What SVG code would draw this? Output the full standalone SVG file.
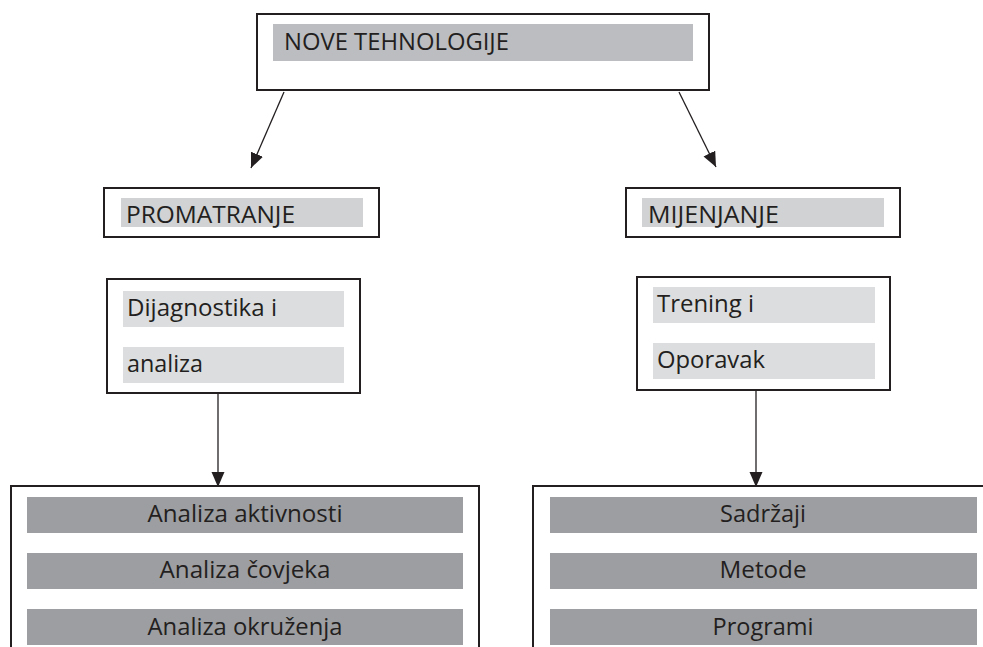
<svg xmlns="http://www.w3.org/2000/svg" width="983" height="647" viewBox="0 0 983 647">
<defs>
<style>
.box{fill:#fff;stroke:#231f20;stroke-width:2}
.b1{fill:#bcbdc0}
.b2{fill:#d1d2d4}
.b3{fill:#dcdddf}
.b4{fill:#9d9ea1}
.t{font-family:"Open Sans","Liberation Sans",sans-serif;font-size:24px;fill:#231f20}
.c{text-anchor:middle}
.conn{stroke:#231f20;stroke-width:1.3;fill:none;marker-end:url(#ah)}
</style>
<marker id="ah" markerUnits="userSpaceOnUse" markerWidth="16" markerHeight="14" refX="15" refY="6.5" orient="auto">
<path d="M0,0 L15,6.5 L0,13 z" fill="#231f20"/>
</marker>
</defs>
<rect width="983" height="647" fill="#fff"/>
<g id="connectors">
<line class="conn" x1="284" y1="92" x2="251" y2="168"/>
<line class="conn" x1="679" y1="92" x2="716" y2="167"/>
<line class="conn" x1="218" y1="394" x2="218" y2="487"/>
<line class="conn" x1="756" y1="391" x2="756" y2="487"/>
</g>
<g id="nove-tehnologije">
<rect class="box" x="257" y="14" width="452" height="76"/>
<rect class="b1" x="273" y="24" width="420" height="37"/>
<text class="t" x="284" y="50" textLength="225" lengthAdjust="spacingAndGlyphs">NOVE TEHNOLOGIJE</text>
</g>
<g id="promatranje">
<rect class="box" x="104" y="188" width="275" height="49"/>
<rect class="b2" x="121" y="198" width="242" height="29"/>
<text class="t" x="126" y="223" textLength="169" lengthAdjust="spacingAndGlyphs">PROMATRANJE</text>
</g>
<g id="mijenjanje">
<rect class="box" x="626" y="188" width="274" height="49"/>
<rect class="b2" x="642" y="198" width="242" height="29"/>
<text class="t" x="648" y="223" textLength="131" lengthAdjust="spacingAndGlyphs">MIJENJANJE</text>
</g>
<g id="dijagnostika">
<rect class="box" x="107" y="279" width="253" height="114"/>
<rect class="b3" x="123" y="291" width="221" height="36"/>
<rect class="b3" x="123" y="347" width="221" height="36"/>
<text class="t" x="127" y="316" textLength="150" lengthAdjust="spacingAndGlyphs">Dijagnostika i</text>
<text class="t" x="127" y="372" textLength="76" lengthAdjust="spacingAndGlyphs">analiza</text>
</g>
<g id="trening">
<rect class="box" x="637" y="277" width="253" height="113"/>
<rect class="b3" x="653" y="287" width="222" height="36"/>
<rect class="b3" x="653" y="343" width="222" height="36"/>
<text class="t" x="657" y="312" textLength="97" lengthAdjust="spacingAndGlyphs">Trening i</text>
<text class="t" x="657" y="368" textLength="108" lengthAdjust="spacingAndGlyphs">Oporavak</text>
</g>
<g id="analize">
<rect class="box" x="11" y="486" width="468" height="180"/>
<rect class="b4" x="27" y="497" width="436" height="36"/>
<rect class="b4" x="27" y="553" width="436" height="36"/>
<rect class="b4" x="27" y="609" width="436" height="36"/>
<text class="t c" x="245" y="522" textLength="195" lengthAdjust="spacingAndGlyphs">Analiza aktivnosti</text>
<text class="t c" x="245" y="578" textLength="171" lengthAdjust="spacingAndGlyphs">Analiza čovjeka</text>
<text class="t c" x="245" y="635" textLength="195" lengthAdjust="spacingAndGlyphs">Analiza okruženja</text>
</g>
<g id="sadrzaji">
<rect class="box" x="533" y="486" width="460" height="180"/>
<rect class="b4" x="550" y="497" width="427" height="36"/>
<rect class="b4" x="550" y="553" width="427" height="36"/>
<rect class="b4" x="550" y="609" width="427" height="36"/>
<text class="t c" x="763" y="522" textLength="86" lengthAdjust="spacingAndGlyphs">Sadržaji</text>
<text class="t c" x="763" y="578" textLength="87" lengthAdjust="spacingAndGlyphs">Metode</text>
<text class="t c" x="763" y="635" textLength="101" lengthAdjust="spacingAndGlyphs">Programi</text>
</g>
</svg>
